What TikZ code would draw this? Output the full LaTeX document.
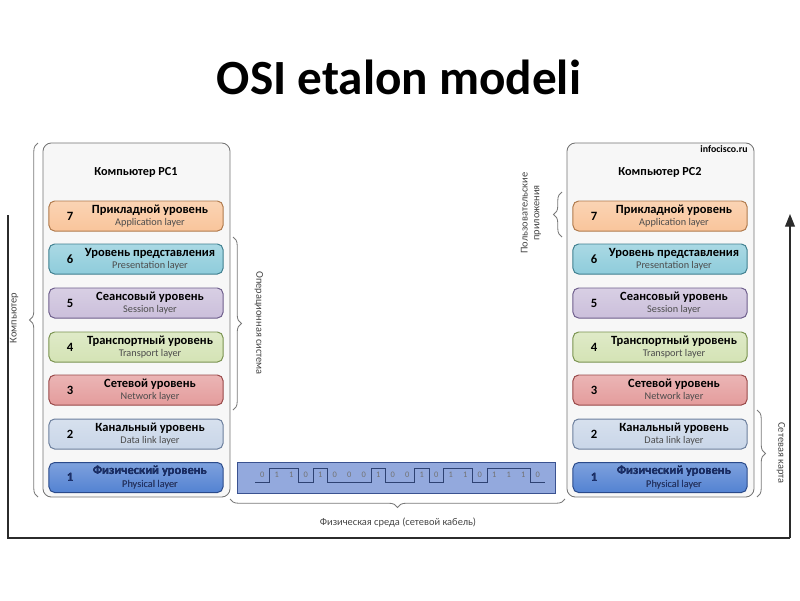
\documentclass[tikz,border=0pt]{standalone}
\usepackage{fontspec}
\setmainfont{Carlito}
\usetikzlibrary{decorations.pathreplacing,calc,arrows.meta}
\definecolor{c7}{HTML}{F9C59B}\definecolor{d7}{HTML}{B07A4C}
\definecolor{c6}{HTML}{8ECCDB}\definecolor{d6}{HTML}{3F7F8F}
\definecolor{c5}{HTML}{CBBFDB}\definecolor{d5}{HTML}{6E5E8C}
\definecolor{c4}{HTML}{D4E3B5}\definecolor{d4}{HTML}{7A9350}
\definecolor{c3}{HTML}{E49C9C}\definecolor{d3}{HTML}{984848}
\definecolor{c2}{HTML}{C9D6E8}\definecolor{d2}{HTML}{6C7F9D}
\definecolor{c1}{HTML}{5382D2}\definecolor{d1}{HTML}{2A4A8A}
\definecolor{t1}{HTML}{1A2F6E}
\definecolor{bitfill}{HTML}{93A9DD}\definecolor{bitdraw}{HTML}{3A5290}
\definecolor{framec}{HTML}{2B2B2B}
\definecolor{bracec}{HTML}{7A7A7A}
\definecolor{labc}{HTML}{444444}
\tikzset{
  container/.style={draw=black!55, fill=black!3, rounded corners=6pt, line width=0.6pt,
    minimum width=4.675cm, minimum height=8.85cm, inner sep=0pt},
  layerbox/.style={rounded corners=4pt, line width=0.7pt, minimum width=4.35cm,
    minimum height=0.75cm, inner sep=0pt},
  num/.style={font=\fontsize{9}{10}\selectfont\bfseries},
  ttl/.style={font=\fontsize{8.9}{10}\selectfont\bfseries, inner sep=0pt},
  sub/.style={font=\fontsize{7.3}{8}\selectfont, text=black!70, inner sep=0pt},
  pctitle/.style={font=\fontsize{8.7}{10}\selectfont\bfseries},
  bracedraw/.style={draw=bracec, line width=0.6pt, decorate, decoration={brace, amplitude=6pt}},
  sidelab/.style={font=\fontsize{7.4}{8.4}\selectfont, text=labc, align=center, inner sep=0pt},
  frameline/.style={draw=framec, line width=0.9pt},
  bitdig/.style={font=\fontsize{6}{7}\selectfont, text=black!55, inner sep=0pt},
}
\begin{document}
\begin{tikzpicture}[x=0.025cm, y=-0.025cm]
\useasboundingbox (0,0) rectangle (800,600);
% title
\node[font=\fontsize{35}{38}\selectfont\bfseries] (title) at (399,77) {OSI etalon modeli};
% frame
\coordinate (fTL) at (8,215);
\coordinate (fBL) at (8,538);
\coordinate (fBR) at (790,538);
\coordinate (fTR) at (790,214);
\draw[frameline] (fTL) -- (fBL) -- (fBR);
\draw[frameline, -{Triangle[length=9pt,width=7pt]}] (fBR) -- (fTR);
% containers
\node[container] (pc1) at (136.5,320) {};
\node[container] (pc2) at (660.5,320) {};
\node[pctitle] (pc1t) at (136,172) {Компьютер PC1};
\node[pctitle] (pc2t) at (660,172) {Компьютер PC2};
\node[font=\fontsize{7}{8}\selectfont\bfseries] (info) at (724,149) {infocisco.ru};
% layers
\foreach \n/\y/\ta/\tb in {7/216/Прикладной уровень/Application layer,
  6/259/Уровень представления/Presentation layer,
  5/303/Сеансовый уровень/Session layer,
  4/347/Транспортный уровень/Transport layer,
  3/390/Сетевой уровень/Network layer,
  2/434/Канальный уровень/Data link layer,
  1/477.5/Физический уровень/Physical layer}{
  \node[layerbox, draw=d\n, top color=c\n!75, bottom color=c\n] (a\n) at (136,\y) {};
  \node[num] (an\n) at (70,\y) {\n};
  \node[ttl] (at\n) at (150,\y-6) {\ta};
  \node[sub] (as\n) at (150,\y+7) {\tb};
  \node[layerbox, draw=d\n, top color=c\n!75, bottom color=c\n] (b\n) at (660,\y) {};
  \node[num] (bn\n) at (594,\y) {\n};
  \node[ttl] (bt\n) at (674,\y-6) {\ta};
  \node[sub] (bs\n) at (674,\y+7) {\tb};
}
\node[num, text=t1] at (70,477.5) {1};
\node[ttl, text=t1] at (150,471.5) {Физический уровень};
\node[sub, text=t1] at (150,484.5) {Physical layer};
\node[num, text=t1] at (594,477.5) {1};
\node[ttl, text=t1] at (674,471.5) {Физический уровень};
\node[sub, text=t1] at (674,484.5) {Physical layer};
% bits
\node[draw=bitdraw, fill=bitfill, line width=0.7pt, minimum width=7.925cm, minimum height=0.775cm, inner sep=0pt] (bits) at (396.5,477.5) {};
\def\bitlist{0,1,1,0,1,0,0,0,1,0,0,1,0,1,1,0,1,1,1,0}
\foreach \b [count=\i from 0] in \bitlist {
  \node[bitdig] (bd\i) at (255+\i*14.5+7.25,475) {\b};
}
\draw[draw=bitdraw!80!black, line width=0.7pt]
  (255,482) -- (269.5,482) -- (269.5,468) -- (298.5,468) -- (298.5,482) -- (313,482)
  -- (313,468) -- (327.5,468) -- (327.5,482) -- (371,482) -- (371,468) -- (385.5,468)
  -- (385.5,482) -- (414.5,482) -- (414.5,468) -- (429,468) -- (429,482) -- (443.5,482)
  -- (443.5,468) -- (472.5,468) -- (472.5,482) -- (487,482) -- (487,468) -- (530.5,468)
  -- (530.5,482) -- (545,482);
% braces
\coordinate (bkA) at (38,497); \coordinate (bkB) at (38,143);
\draw[bracedraw] (bkA) -- (bkB);
\node[sidelab, rotate=90] (lk) at (14,318) {Компьютер};
\coordinate (boA) at (233,237); \coordinate (boB) at (233,410);
\draw[bracedraw] (boA) -- (boB);
\node[sidelab, rotate=-90] (lo) at (259,323) {Операционная система};
\coordinate (bpA) at (562,237); \coordinate (bpB) at (562,192);
\draw[bracedraw] (bpA) -- (bpB);
\node[sidelab, rotate=90] (lp) at (531,213) {Пользовательские\\приложения};
\coordinate (bsA) at (757,410); \coordinate (bsB) at (757,497);
\draw[bracedraw] (bsA) -- (bsB);
\node[sidelab, rotate=-90] (ls) at (781,453) {Сетевая карта};
\coordinate (bfA) at (565,499); \coordinate (bfB) at (230,499);
\draw[bracedraw] (bfA) -- (bfB);
\node[sidelab] (lf) at (398,523) {Физическая среда (сетевой кабель)};
\end{tikzpicture}
\end{document}
